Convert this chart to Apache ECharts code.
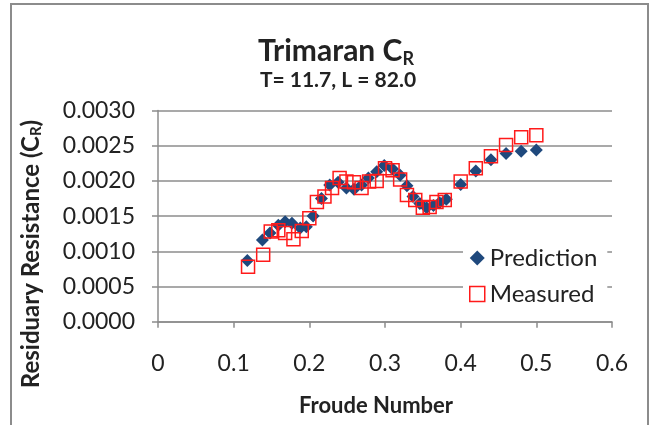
<!DOCTYPE html>
<html><head><meta charset="utf-8">
<script src="https://cdn.jsdelivr.net/npm/echarts@6/dist/echarts.min.js"></script>
<style>html,body{margin:0;padding:0;background:#fff}#c{width:655px;height:425px}</style>
</head><body><div id="c"></div>
<script>
const predFr = [0.118,0.138,0.148,0.159,0.168,0.177,0.188,0.196,0.205,0.216,0.227,0.238,0.249,0.259,0.269,0.278,0.289,0.299,0.310,0.320,0.329,0.337,0.346,0.355,0.364,0.372,0.381,0.400,0.420,0.440,0.460,0.480,0.500];
const predCR = [0.00087,0.00116,0.00126,0.00137,0.00142,0.00140,0.00133,0.00135,0.00150,0.00175,0.00194,0.00198,0.00190,0.00188,0.00194,0.00204,0.00213,0.00222,0.00217,0.00208,0.00193,0.00178,0.00168,0.00162,0.00165,0.00169,0.00174,0.00195,0.00214,0.00230,0.00239,0.00242,0.00244];
const measFr = [0.119,0.139,0.149,0.159,0.168,0.179,0.190,0.200,0.210,0.220,0.230,0.240,0.249,0.259,0.269,0.279,0.289,0.300,0.310,0.320,0.329,0.340,0.350,0.359,0.368,0.379,0.400,0.420,0.440,0.460,0.480,0.500];
const measCR = [0.00078,0.00095,0.00128,0.00130,0.00126,0.00117,0.00129,0.00147,0.00170,0.00178,0.00190,0.00204,0.00199,0.00198,0.00190,0.00199,0.00200,0.00218,0.00215,0.00202,0.00180,0.00173,0.00162,0.00163,0.00170,0.00173,0.00199,0.00218,0.00235,0.00251,0.00262,0.00265];
const xTicks = [0,0.1,0.2,0.3,0.4,0.5,0.6];
const yTicks = [0,0.0005,0.001,0.0015,0.002,0.0025,0.003];

const FONT = 'Lato';
const chart = echarts.init(document.getElementById('c'));
chart.setOption({
  animation: false,
  textStyle: {fontFamily: FONT, color: '#222'},
  title: [
    {text: 'Trimaran C{sub|R}', left: 331, top: 29, textAlign: 'center',
     textStyle: {fontFamily: FONT, fontSize: 30, fontWeight: 'bold', color: '#222',
       rich: {sub: {fontFamily: FONT, fontSize: 18, fontWeight: 'bold', color: '#222', verticalAlign: 'bottom', padding: [16,0,0,0]}}}},
    {text: 'T= 11.7, L = 82.0', left: 333, top: 65, textAlign: 'center',
     textStyle: {fontFamily: FONT, fontSize: 21, fontWeight: 'bold', color: '#222'}}
  ],
  grid: {left: 158, right: 43, top: 110.5, bottom: 103.3, containLabel: false},
  xAxis: {
    type: 'value', min: xTicks[0], max: xTicks[xTicks.length-1], interval: 0.1,
    name: 'Froude Number', nameLocation: 'middle', nameGap: 73,
    nameTextStyle: {fontFamily: FONT, fontSize: 22, fontWeight: 'bold', color: '#222', padding: [0, 18, 0, 0]},
    axisLine: {show: true, onZero: false, lineStyle: {color: '#8c8c8c', width: 1.5}},
    axisTick: {show: true, length: 6, lineStyle: {color: '#8c8c8c', width: 1.5}},
    splitLine: {show: false},
    axisLabel: {fontFamily: FONT, fontSize: 23, color: '#222', margin: 30,
      formatter: v => String(Number(v.toFixed(1)))}
  },
  yAxis: {
    type: 'value', min: yTicks[0], max: yTicks[yTicks.length-1], interval: 0.0005,
    axisLine: {show: true, lineStyle: {color: '#8c8c8c', width: 1.5}},
    axisTick: {show: true, length: 6, lineStyle: {color: '#8c8c8c', width: 1.5}},
    splitLine: {show: true, lineStyle: {color: '#8c8c8c', width: 1.5}},
    axisLabel: {fontFamily: FONT, fontSize: 23, color: '#222', margin: 23,
      formatter: v => v.toFixed(4)}
  },
  legend: {
    orient: 'vertical', left: 463, top: 240, itemGap: 12,
    backgroundColor: '#fff', padding: [6, 10, 6, 6],
    itemWidth: 15, itemHeight: 15,
    textStyle: {fontFamily: FONT, fontSize: 24, color: '#222'},
    data: [
      {name: 'Prediction', icon: 'diamond'},
      {name: 'Measured', icon: 'rect', itemStyle: {color: 'rgba(0,0,0,0)', borderColor: '#ff1a1a', borderWidth: 1.5}}
    ]
  },
  graphic: [
    {type: 'rect', shape: {x: 11, y: 4, width: 637, height: 440}, style: {fill: 'none', stroke: '#8c8c8c', lineWidth: 2}, silent: true, z: 100},
    {type: 'text', x: 31, y: 254, rotation: Math.PI/2,
     style: {text: 'Residuary Resistance (C{sub|R})', fontFamily: FONT, fontSize: 24, fontWeight: 'bold', fill: '#222',
       align: 'center', verticalAlign: 'middle',
       rich: {sub: {fontFamily: FONT, fontSize: 15, fontWeight: 'bold', fill: '#222', verticalAlign: 'bottom', padding: [10,0,0,0]}}}}
  ],
  series: [
    {name: 'Prediction', type: 'scatter', symbol: 'diamond', symbolSize: 13,
     itemStyle: {color: '#1f497d', opacity: 1},
     data: predFr.map((x, i) => [x, predCR[i]]), z: 2},
    {name: 'Measured', type: 'scatter', symbol: 'rect', symbolSize: 13,
     itemStyle: {color: 'rgba(0,0,0,0)', borderColor: '#ff1a1a', borderWidth: 1.5, opacity: 1},
     data: measFr.map((x, i) => [x, measCR[i]]), z: 3}
  ]
});
</script></body></html>
